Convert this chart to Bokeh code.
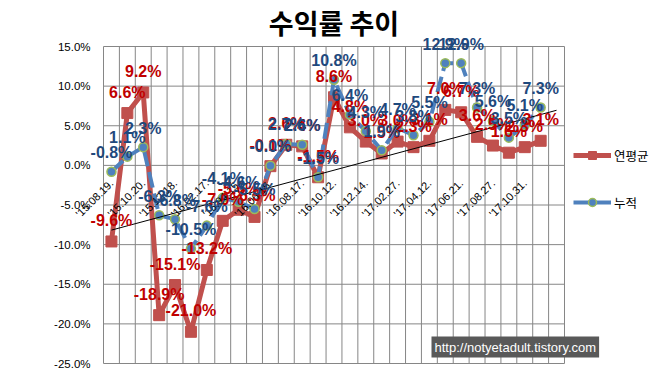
import numpy as np
from bokeh.plotting import figure
from bokeh.models import Legend, LegendItem, Label, Range1d
from bokeh.core.properties import value
from bokeh.embed import file_html
from bokeh.resources import INLINE

# ---- data ----
cat_labels = ["'15.08.19.", "", "'15.10.20.", "", "'15.12.18.", "", "'16.02.17.", "",
              "'16.04.15.", "", "'16.06.15.", "", "'16.08.17.", "", "'16.10.12.", "",
              "'16.12.14.", "", "'17.02.27.", "", "'17.04.12.", "", "'17.06.21.", "",
              "'17.08.27.", "", "'17.10.31.", "", ""]
annual = [-9.6, 6.6, 9.2, -18.9, -15.1, -21.0, -13.2, -7.0, -5.6, -6.5, -0.1, 2.6, 2.4, -1.5,
          8.6, 4.8, 3.0, 1.5, 3.0, 2.3, 3.1, 7.0, 6.7, 3.6, 2.5, 1.6, 2.3, 3.1]
cumul = [-0.8, 1.1, 2.3, -6.3, -6.8, -10.5, -7.6, -4.1, -4.6, -5.5, -0.04, 2.7, 2.6, -1.5,
         10.8, 6.4, 4.3, 1.9, 4.7, 3.8, 5.5, 12.9, 12.9, 7.3, 5.6, 3.5, 5.1, 7.3]
y_ticks = [-25, -20, -15, -10, -5, 0, 5, 10, 15]
series_names = ["연평균", "누적"]
title_text = "수익률 추이"
watermark = "http://notyetadult.tistory.com"

# ---- layout (pixels) ----
W, H = 671, 373
PL, PR, PT, PB = 103, 564, 46, 363   # plot-area edges inside the figure

ncat = len(cat_labels)
x = np.arange(len(annual))
y_min, y_max = y_ticks[0], y_ticks[-1]
ppu_y = (PB - PT) / (y_max - y_min)
ppu_x = (PR - PL) / ncat
x_range = Range1d(-0.5 - PL / ppu_x, -0.5 + (W - PL) / ppu_x)
y_range = Range1d(y_min - (H - PB) / ppu_y, y_max + PT / ppu_y)

GRID = "#868686"
RED = "#C0504D"
BLUE = "#4F81BD"

p = figure(width=W, height=H, x_range=x_range, y_range=y_range,
           x_axis_location=None, y_axis_location=None,
           output_backend="svg", toolbar_location=None,
           min_border_left=0, min_border_right=0, min_border_top=0, min_border_bottom=0)
p.background_fill_color = "white"
p.border_fill_color = "white"
p.outline_line_color = None
p.xgrid.visible = False
p.ygrid.visible = False

# grid (only over the category / value extent)
bounds = np.arange(ncat + 1) - 0.5
p.segment(x0=[-0.5] * len(y_ticks), x1=[ncat - 0.5] * len(y_ticks), y0=y_ticks, y1=y_ticks,
          line_color=GRID, line_width=1)
p.segment(x0=bounds, x1=bounds, y0=[y_min] * len(bounds), y1=[y_max] * len(bounds),
          line_color=GRID, line_width=1)

# value-axis labels
p.text([-0.5] * len(y_ticks), y_ticks, text=[f"{t:.1f}%" for t in y_ticks],
       text_align="right", text_baseline="middle", x_offset=-13,
       text_font=value("Liberation Sans"), text_font_size="11.5px", text_color="black")

# series
r_line = p.line(x, annual, line_color=RED, line_width=5, line_join="round")
r_mark = p.scatter(x, annual, marker="square", size=11, fill_color=RED, line_color=RED)
b_line = p.line(x, cumul, line_color=BLUE, line_width=4, line_dash="16 6")
b_mark = p.scatter(x, cumul, marker="circle", size=9, fill_color=BLUE, line_color="#9BBB59",
                   line_width=1.5)

# linear trendline of the annual series (forecast one period forward)
coef = np.polyfit(x, annual, 1)
xt = np.array([0, ncat - 1])
p.line(xt, np.polyval(coef, xt), line_color="black", line_width=1)

# category labels
idx = [i for i, s in enumerate(cat_labels) if s]
p.text(idx, [0] * len(idx), text=[cat_labels[i] for i in idx], angle=np.pi / 4,
       text_align="right", text_baseline="middle", x_offset=0, y_offset=16,
       text_font=value("Liberation Sans"), text_font_size="11px", text_color="black")

# data labels
p.text(x, annual, text=[f"{v:.1f}%" for v in annual], text_align="center",
       text_baseline="middle", y_offset=-21, text_font=value("Liberation Sans"),
       text_font_style="bold", text_font_size="16px", text_color="#C00000")
p.text(x, cumul, text=[f"{v:.1f}%" for v in cumul], text_align="center",
       text_baseline="middle", y_offset=-19, text_font=value("Liberation Sans"),
       text_font_style="bold", text_font_size="16px", text_color="#1F497D")

legend = Legend(items=[LegendItem(label=series_names[0], renderers=[r_line, r_mark]),
                       LegendItem(label=series_names[1], renderers=[b_line, b_mark])],
                location=(573, 161), glyph_width=38, glyph_height=20, label_height=20,
                spacing=27, label_standoff=3, padding=0, margin=0,
                border_line_color=None, background_fill_alpha=0,
                label_text_font="Noto Sans CJK KR", label_text_font_size="12.5px",
                label_text_color="black")
p.add_layout(legend)

p.add_layout(Label(x=(PL + PR) / 2, y=H - 22, x_units="screen", y_units="screen",
                   text=title_text, text_align="center", text_baseline="middle",
                   text_font="Noto Sans CJK KR", text_font_style="bold", text_font_size="27px",
                   text_color="black"))

p.add_layout(Label(x=431, y=16, x_units="screen", y_units="screen", text=watermark,
                   text_color="white", text_font="Liberation Sans", text_font_size="13px",
                   text_baseline="bottom", background_fill_color="#595959", padding=3))

open("out.html", "w").write(file_html(p, INLINE))
